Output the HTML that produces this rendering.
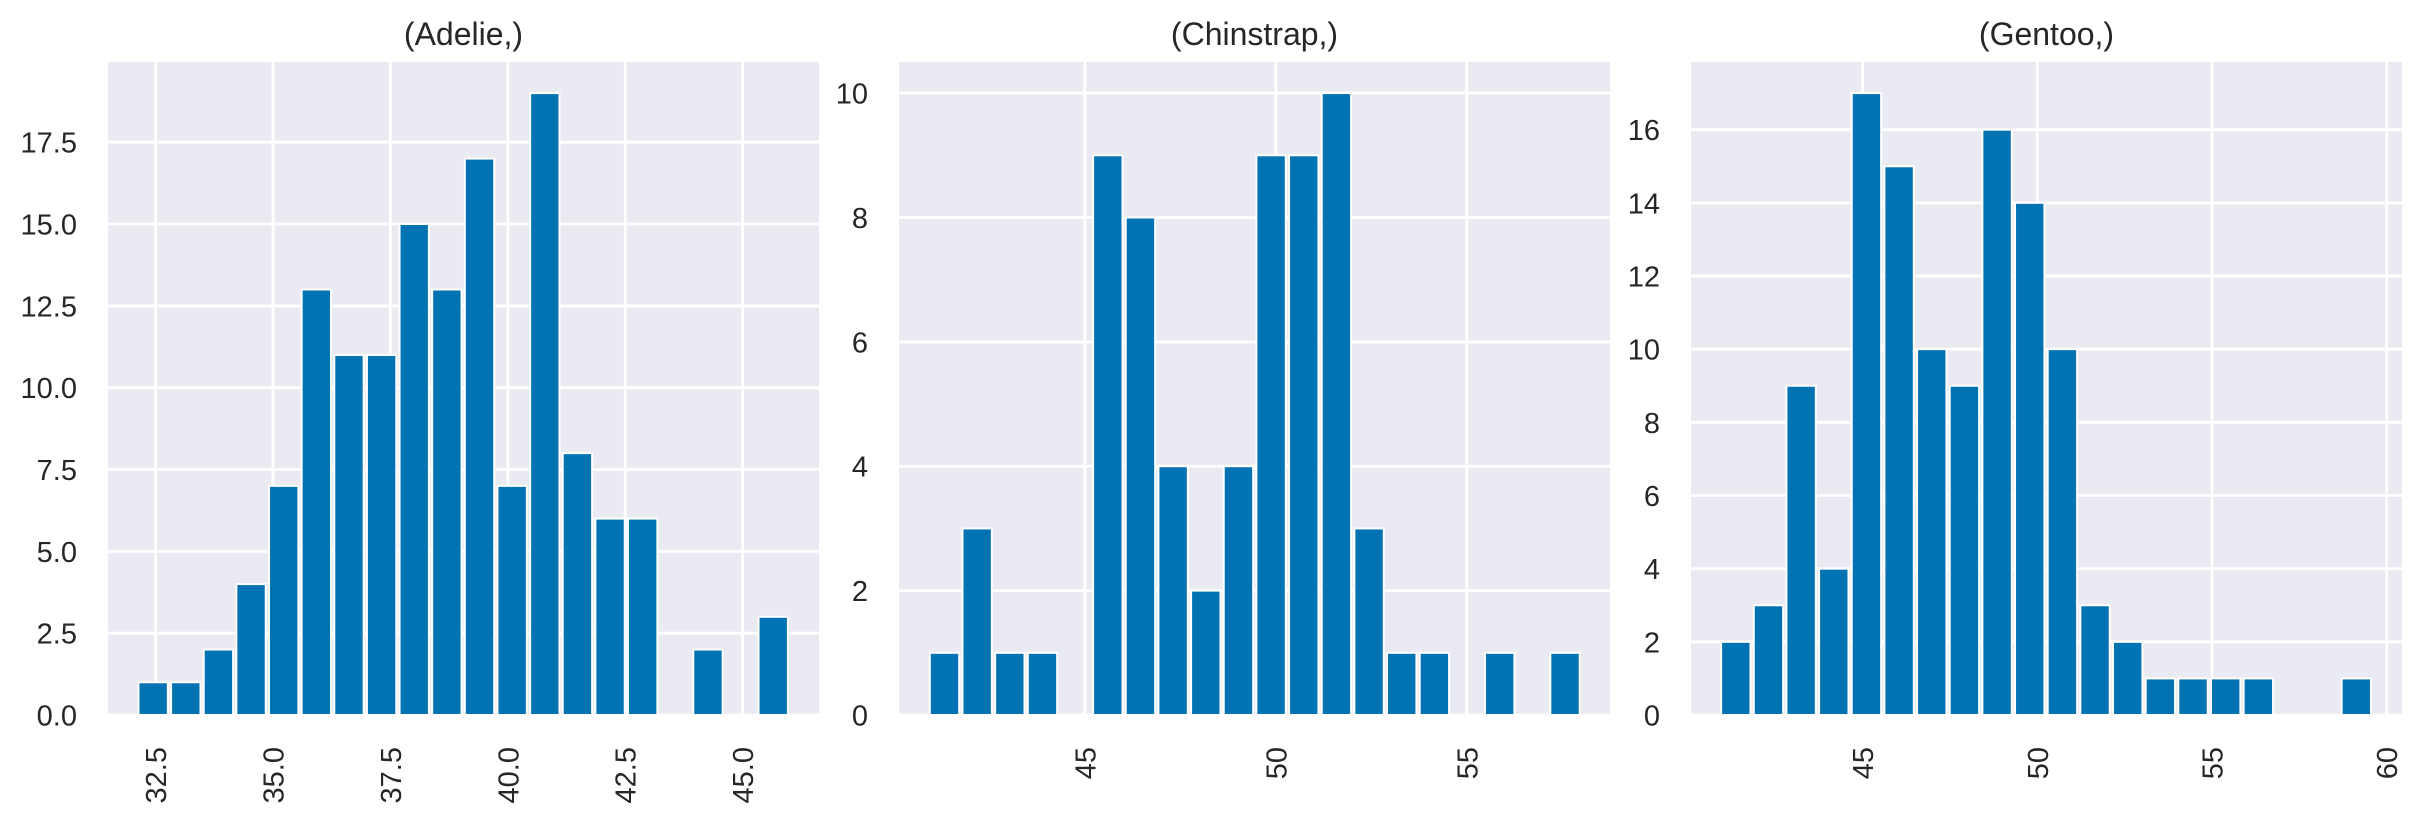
<!DOCTYPE html>
<html><head><meta charset="utf-8"><style>
html,body{margin:0;padding:0;background:#fff;}
svg{display:block;font-family:"Liberation Sans",Arial,sans-serif;}
</style></head><body>
<svg id="fig" width="2423" height="823" viewBox="0 0 2423 823" xmlns="http://www.w3.org/2000/svg"></svg>
<script>
const titles = ["(Adelie,)", "(Chinstrap,)", "(Gentoo,)"];
const adelieCounts = [1,1,2,4,7,13,11,11,15,13,17,7,19,8,6,6,0,2,0,3];
const chinstrapCounts = [1,3,1,1,0,9,8,4,2,4,9,9,10,3,1,1,0,1,0,1];
const gentooCounts = [2,3,9,4,17,15,10,9,16,14,10,3,2,1,1,1,1,0,0,1];
const binRanges = [[32.1,46.0],[40.9,58.0],[40.9,59.6]];
const xDomains = [[31.486,46.627],[40.136,58.75],[40.085,60.44]];
const yTicks = [[0,2.5,5,7.5,10,12.5,15,17.5],[0,2,4,6,8,10],[0,2,4,6,8,10,12,14,16]];
const yTickLabels = [["0.0","2.5","5.0","7.5","10.0","12.5","15.0","17.5"],["0","2","4","6","8","10"],["0","2","4","6","8","10","12","14","16"]];
const xTicks = [[32.5,35,37.5,40,42.5,45],[45,50,55],[45,50,55,60]];
const xTickLabels = [["32.5","35.0","37.5","40.0","42.5","45.0"],["45","50","55"],["45","50","55","60"]];
const allCounts = [adelieCounts, chinstrapCounts, gentooCounts];
const names = ["adelie","chinstrap","gentoo"];

const NS = "http://www.w3.org/2000/svg";
const svg = document.getElementById('fig');
const panelLefts = [108, 899, 1691];
const PW = 711, TOP = 62, BOT = 715;

function mk(tag, attrs, parent){
  const e = document.createElementNS(NS, tag);
  for (const k in attrs) e.setAttribute(k, attrs[k]);
  parent.appendChild(e);
  return e;
}

for (let p = 0; p < 3; p++) {
  const L = panelLefts[p];
  const counts = allCounts[p];
  const [d0, d1] = xDomains[p];
  const ymax = Math.max(...counts) * 1.05;
  const xs = v => L + (v - d0) / (d1 - d0) * PW;
  const ys = v => BOT - v / ymax * (BOT - TOP);

  const g = mk('g', {}, svg);
  
  

  const bg = mk('rect', {x:L, y:TOP, width:PW, height:BOT-TOP, fill:'#EAEAF2'}, g);
  
  

  yTicks[p].forEach((t, i) => {
    const y = ys(t);
    const gl = mk('line', {x1:L, x2:L+PW, y1:y, y2:y, stroke:'#fff', 'stroke-width':2.8}, g);
    
    
    const tx = mk('text', {x:L-31, y:y+10.5, 'text-anchor':'end', 'font-size':29, fill:'#262626'}, g);
    tx.textContent = yTickLabels[p][i];
    
    
  });
  xTicks[p].forEach((t, i) => {
    const x = xs(t);
    const gl = mk('line', {x1:x, x2:x, y1:TOP, y2:BOT, stroke:'#fff', 'stroke-width':2.8}, g);
    
    
    const tx = mk('text', {x:0, y:0, 'text-anchor':'end', 'font-size':29, fill:'#262626',
      transform:`translate(${x+10.5},${BOT+32}) rotate(-90)`}, g);
    tx.textContent = xTickLabels[p][i];
    
    
  });

  const [b0, b1] = binRanges[p];
  const bw = (b1 - b0) / counts.length;
  counts.forEach((c, i) => {
    if (c <= 0) return;
    const left = b0 + i * bw + bw * 0.05;
    const x0 = xs(left), x1 = xs(left + bw * 0.9);
    const bar = mk('rect', {x:x0, y:ys(c), width:x1-x0, height:BOT-ys(c), fill:'#0173B2', stroke:'#fff', 'stroke-width':2}, g);
    
    
  });

  const title = mk('text', {x:L+PW/2, y:45, 'text-anchor':'middle', 'font-size':32, fill:'#262626'}, g);
  title.textContent = titles[p];
  
  
}
</script>
</body></html>
